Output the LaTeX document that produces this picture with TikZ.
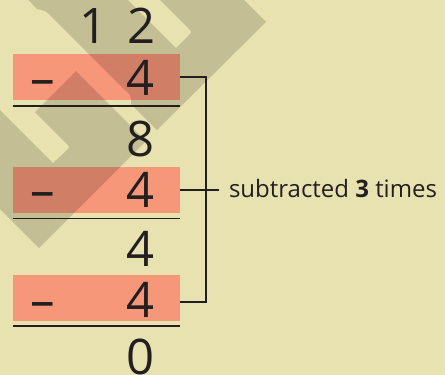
\documentclass[tikz,border=0pt]{standalone}
\usepackage{fontspec}
\setmainfont{Open Sans}
\definecolor{bg}{HTML}{E8E2B0}
\definecolor{pinkbox}{HTML}{F7977A}
\definecolor{ink}{HTML}{231F20}
\begin{document}
\begin{tikzpicture}[x=1pt,y=-1pt,
  box/.style={fill=pinkbox, draw=none, minimum width=167pt, minimum height=46pt, inner sep=0pt, outer sep=0pt},
  digit/.style={font=\fontsize{49}{49}\selectfont, text=ink, inner sep=0pt, outer sep=0pt, anchor=base},
  rulebar/.style={draw=ink, line width=1.6pt},
  bracket/.style={draw=ink, line width=1.3pt},
  wmark/.style={fill=black, fill opacity=0.155, draw=none},
  lbl/.style={font=\fontsize{24}{24}\selectfont, text=ink, inner sep=0pt, outer sep=0pt, anchor=base west}]
\useasboundingbox (0,0) rectangle (445,375);
\fill[bg] (0,0) rectangle (445,375);
\clip (0,0) rectangle (445,375);
% pink boxes
\node[box] (b1) at (96.5,77) {};
\node[box] (b2) at (96.5,190) {};
\node[box] (b3) at (96.5,298) {};
% watermark
\fill[wmark]
  (19,-10) -- (118,-10) -- (176,48) -- (188,36)
  .. controls (192,32) .. (188,28) -- (150,-10)
  -- (234,-10) -- (266,22) -- (157,130) -- (131,104) -- (131,100)
  .. controls (130,94) .. (126,91) -- (49,14)
  .. controls (45,10) and (41,10) .. (37,9) -- cycle
  (76,71) -- (146,141) -- (39,248) -- (-20,189) -- (-20,90) -- (53,163) -- (66,151)
  .. controls (70,147) .. (66,143) -- (35,112) -- cycle;
% rules
\coordinate (u1l) at (13,106);  \coordinate (u1r) at (180,106);
\coordinate (u2l) at (13,218.5);\coordinate (u2r) at (180,218.5);
\coordinate (u3l) at (13,326);  \coordinate (u3r) at (180,326);
\draw[rulebar] (u1l) -- (u1r);
\draw[rulebar] (u2l) -- (u2r);
\draw[rulebar] (u3l) -- (u3r);
% bracket
\coordinate (bt) at (206,77);
\coordinate (bb) at (206,302);
\coordinate (k3) at (180,302);
\coordinate (tk) at (219,190);
\draw[bracket] (b1.east) -- (bt) -- (bb) -- (k3);
\draw[bracket] (b2.east) -- (tk);
% digits
\node[digit] (d1) at (94,43.5) {1};
\node[digit] (d2) at (141.5,43.5) {2};
\node[digit] (m1) at (42.5,95) {–};
\node[digit] (s1) at (141,95) {4};
\node[digit] (r1) at (141,156.5) {8};
\node[digit] (m2) at (42.5,207) {–};
\node[digit] (s2) at (141,207) {4};
\node[digit] (r2) at (141,266) {4};
\node[digit] (m3) at (42.5,317) {–};
\node[digit] (s3) at (141,317) {4};
\node[digit] (r3) at (141,374.5) {0};
\node[lbl] (lab) at (229,197) {subtracted \textbf{3} times};
\end{tikzpicture}
\end{document}
